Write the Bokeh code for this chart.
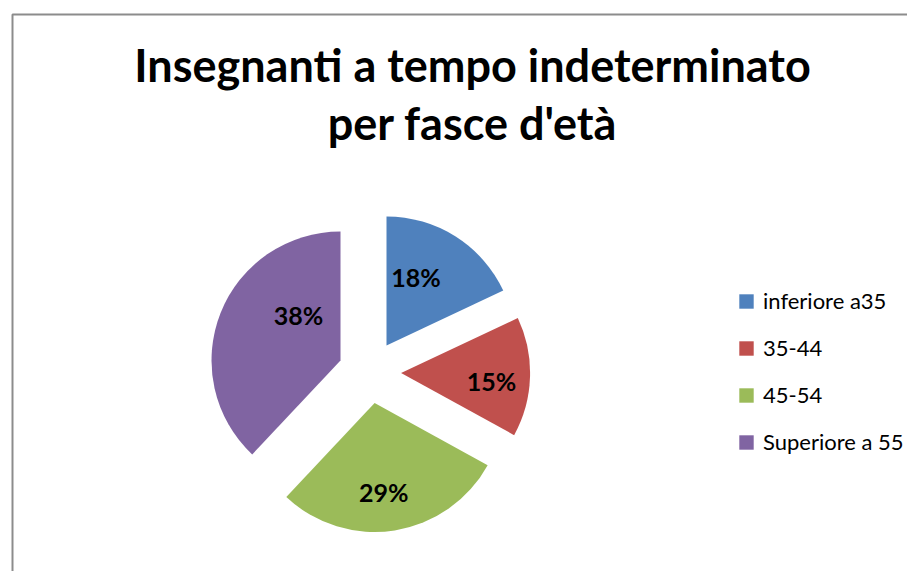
import math
from bokeh.plotting import figure
from bokeh.models import Range1d, Legend, LegendItem, ColumnDataSource
from bokeh.core.properties import value
from bokeh.embed import file_html
from bokeh.resources import INLINE

# ---- data ----
categories = ["inferiore a35", "35-44", "45-54", "Superiore a 55"]
percent = [18, 15, 29, 38]
pct_labels = ["18%", "15%", "29%", "38%"]
colors = ["#4F81BD", "#C0504D", "#9BBB59", "#8064A2"]
title_lines = ["Insegnanti a tempo indeterminato", "per fasce d'età"]

# ---- layout / style ----
W, H = 907, 571
CX, CY = 369.2, 199.5      # pie centre (data units = pixels)
R = 129                    # radius
EXPLODE = 31.4             # explosion distance
label_dist = [73, 91, 91, 60.5]
label_shift = [8.6, -4.5, -3.3, -24.4]   # degrees off the mid angle

total = float(sum(percent))
starts, ends, xs, ys, lx, ly = [], [], [], [], [], []
cum = 0.0
for i, v in enumerate(percent):
    a0 = 90 - cum / total * 360.0
    cum += v
    a1 = 90 - cum / total * 360.0
    mid = (a0 + a1) / 2.0
    cx = CX + EXPLODE * math.cos(math.radians(mid))
    cy = CY + EXPLODE * math.sin(math.radians(mid))
    starts.append(math.radians(a1))
    ends.append(math.radians(a0))
    xs.append(cx)
    ys.append(cy)
    la = math.radians(mid + label_shift[i])
    lx.append(cx + label_dist[i] * math.cos(la))
    ly.append(cy + label_dist[i] * math.sin(la))

src = ColumnDataSource(dict(x=xs, y=ys, start=starts, end=ends, color=colors,
                            cat=categories, lx=lx, ly=ly, lab=pct_labels))

p = figure(width=W, height=H, output_backend="svg", toolbar_location=None,
           x_range=Range1d(0, W), y_range=Range1d(0, H),
           x_axis_location=None, y_axis_location=None, min_border=0)
p.grid.visible = False
p.outline_line_color = None
p.background_fill_color = "white"
p.border_fill_color = "white"

# chart-area border (only top and left visible)
p.quad(left=[12], right=[W + 200], bottom=[-200], top=[557],
       fill_color=None, line_color="#8c8c8c", line_width=2)

wr = p.wedge(x="x", y="y", radius=R, start_angle="start", end_angle="end",
             direction="anticlock", fill_color="color", line_color=None, source=src)

p.text(x="lx", y="ly", text="lab", source=src, text_font=value("Lato"),
       text_font_style="bold", text_font_size="25px", text_color="black",
       text_align="center", text_baseline="middle", y_offset=-2)

# title
tsrc = ColumnDataSource(dict(x=[472, 472], y=[506.5, 448.5], t=title_lines))
p.text(x="x", y="y", text="t", source=tsrc, text_font=value("Lato"),
       text_font_style="bold", text_font_size="45px", text_color="black",
       text_align="center", text_baseline="middle")

items = [LegendItem(label=c, renderers=[wr], index=i) for i, c in enumerate(categories)]
legend = Legend(items=items, location=(737, 116), padding=0, margin=0,
                border_line_color=None, background_fill_alpha=0,
                glyph_width=18, glyph_height=18, label_standoff=8,
                spacing=20, label_text_font="Lato", label_text_font_size="22px",
                label_text_color="black", label_height=14)
p.add_layout(legend, "center")

open("out.html", "w").write(file_html(p, INLINE))
